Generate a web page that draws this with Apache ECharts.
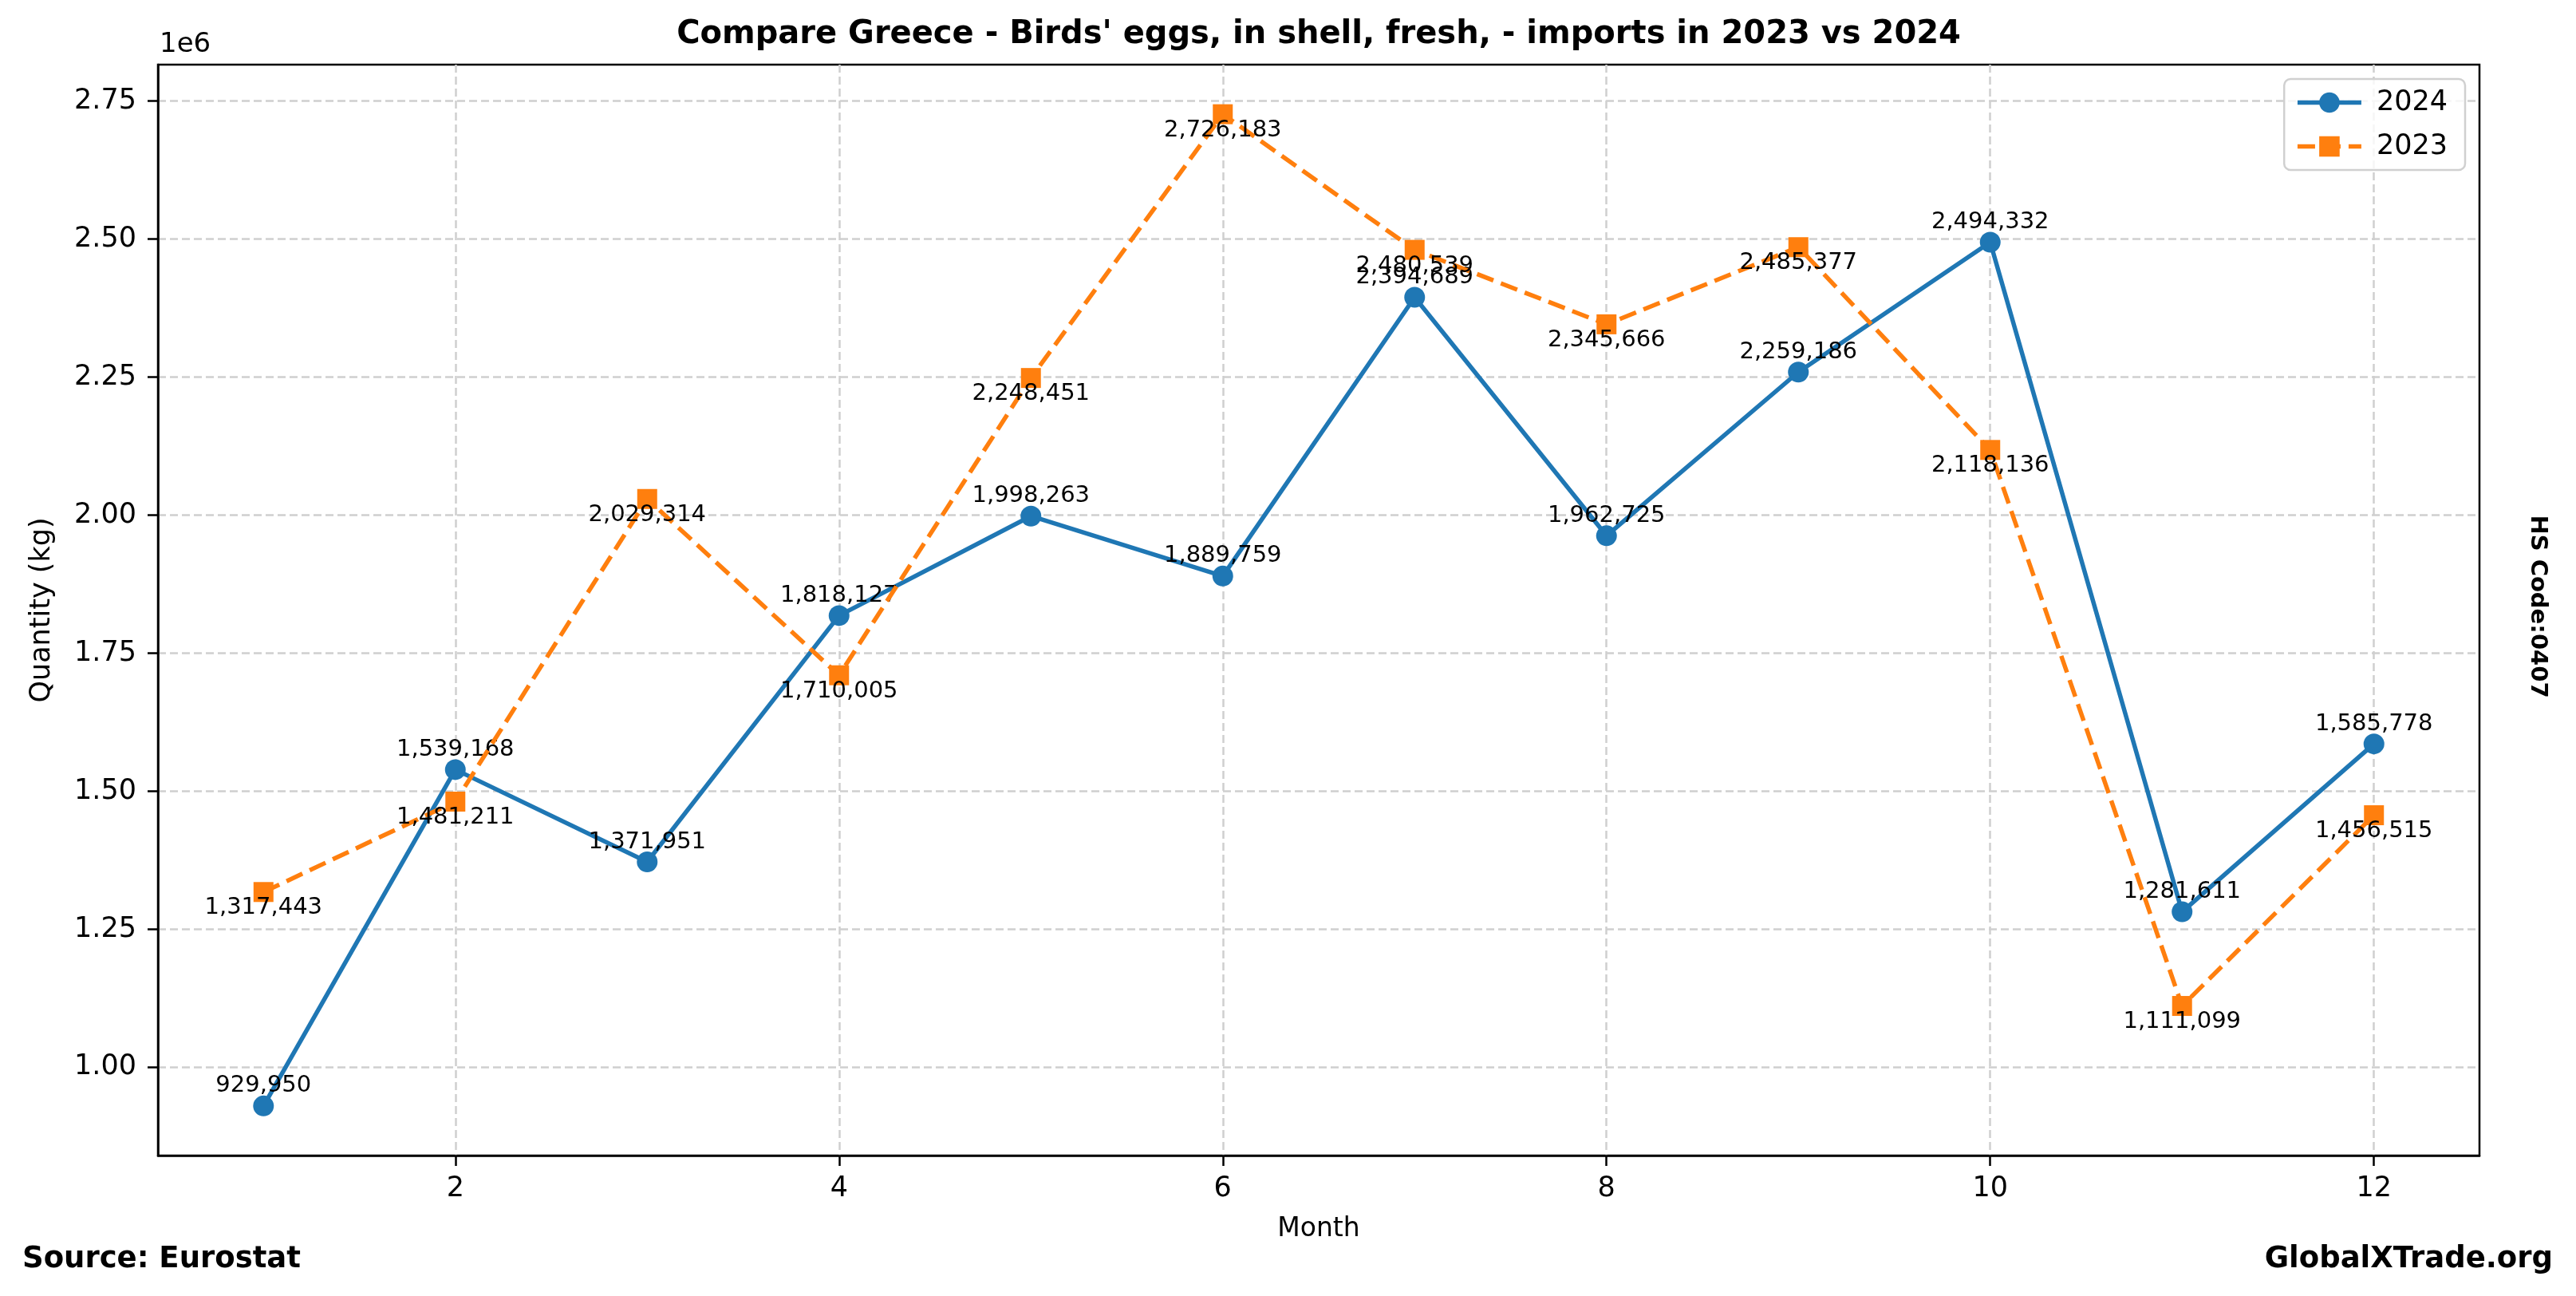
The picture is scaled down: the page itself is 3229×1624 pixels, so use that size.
<!DOCTYPE html>
<html>
<head>
<meta charset="utf-8">
<script src="https://cdn.jsdelivr.net/npm/echarts@6/dist/echarts.min.js"></script>
<style>html,body{margin:0;padding:0;background:#fff}#c{width:3229px;height:1624px}</style>
</head>
<body>
<div id="c"></div>
<script>
const months = [1,2,3,4,5,6,7,8,9,10,11,12];
const values2024 = [929950,1539168,1371951,1818127,1998263,1889759,2394689,1962725,2259186,2494332,1281611,1585778];
const values2023 = [1317443,1481211,2029314,1710005,2248451,2726183,2480539,2345666,2485377,2118136,1111099,1456515];
const xTicks = [2,4,6,8,10,12];
const yTicks = [1000000,1250000,1500000,1750000,2000000,2250000,2500000,2750000];

const allVals = values2024.concat(values2023);
const vMin = Math.min(...allVals), vMax = Math.max(...allVals);
const pad = (vMax - vMin) * 0.05;
const FONT = 'DejaVu Sans';
const fmt = v => Number(v).toLocaleString('en-US');
const gridLine = {show:true, lineStyle:{color:'#cfcfcf', width:2.5, type:[10,5]}};

const chart = echarts.init(document.getElementById('c'));
chart.setOption({
  animation:false,
  backgroundColor:'#fff',
  textStyle:{fontFamily:FONT},
  grid:{left:198, right:121, top:81, bottom:176, show:true, borderColor:'#000', borderWidth:2.5, backgroundColor:'transparent'},
  xAxis:{
    type:'value', min:0.45, max:12.55,
    name:'Month', nameLocation:'middle', nameGap:76,
    nameTextStyle:{fontSize:33, color:'#000', fontFamily:FONT},
    axisLine:{show:true, lineStyle:{color:'#000', width:2.5}},
    axisTick:{show:true, length:13, lineStyle:{color:'#000', width:2.5}, customValues:xTicks},
    axisLabel:{fontSize:35, color:'#000', margin:24, fontFamily:FONT, customValues:xTicks},
    splitLine:gridLine
  },
  yAxis:{
    type:'value', min:vMin-pad, max:vMax+pad,
    name:'Quantity (kg)', nameLocation:'middle', nameGap:128,
    nameTextStyle:{fontSize:35, color:'#000', fontFamily:FONT},
    axisLine:{show:true, lineStyle:{color:'#000', width:2.5}},
    axisTick:{show:true, length:13, lineStyle:{color:'#000', width:2.5}, customValues:yTicks},
    axisLabel:{fontSize:35, color:'#000', margin:27, fontFamily:FONT, customValues:yTicks,
      formatter:v => (v/1e6).toFixed(2)},
    splitLine:gridLine
  },
  legend:{
    orient:'vertical', right:139, top:99,
    padding:[12,22,12,14],
    borderColor:'#d0d0d0', borderWidth:2.5, borderRadius:8,
    backgroundColor:'rgba(255,255,255,0.8)',
    itemWidth:80, itemHeight:32, itemGap:20,
    lineStyle:{width:5.5},
    textStyle:{fontSize:35, color:'#000', fontFamily:FONT, padding:[0,0,0,14]},
    data:['2024','2023']
  },
  series:[
    {
      name:'2024', type:'line',
      data:months.map((m,i)=>[m, values2024[i]]),
      symbol:'circle', symbolSize:26,
      lineStyle:{color:'#1f77b4', width:5.5},
      itemStyle:{color:'#1f77b4'},
      label:{show:true, position:'inside', offset:[0,-25], fontSize:29, color:'#000', fontFamily:FONT,
        formatter:p => fmt(p.value[1])},
      z:3
    },
    {
      name:'2023', type:'line',
      data:months.map((m,i)=>[m, values2023[i]]),
      symbol:'rect', symbolSize:25,
      lineStyle:{color:'#ff7f0e', width:5.5, type:[22,10]},
      itemStyle:{color:'#ff7f0e'},
      label:{show:true, position:'inside', offset:[0,20], fontSize:29, color:'#000', fontFamily:FONT,
        formatter:p => fmt(p.value[1])},
      z:4
    }
  ],
  graphic:[
    {type:'text', x:1653, y:44, style:{text:"Compare Greece - Birds' eggs, in shell, fresh, - imports in 2023 vs 2024",
      font:'bold 40px "DejaVu Sans"', fill:'#000', align:'center', verticalAlign:'middle'}},
    {type:'text', x:200, y:56, style:{text:'1e6', font:'34px "DejaVu Sans"', fill:'#000', align:'left', verticalAlign:'middle'}},
    {type:'text', x:28, y:1578, style:{text:'Source: Eurostat', font:'bold 37px "DejaVu Sans"', fill:'#000', align:'left', verticalAlign:'middle'}},
    {type:'text', x:3200, y:1578, style:{text:'GlobalXTrade.org', font:'bold 37px "DejaVu Sans"', fill:'#000', align:'right', verticalAlign:'middle'}},
    {type:'text', x:3181, y:760, rotation:-Math.PI/2, style:{text:'HS Code:0407', font:'bold 29px "DejaVu Sans"', fill:'#000', align:'center', verticalAlign:'middle'}}
  ]
});
</script>
</body>
</html>
